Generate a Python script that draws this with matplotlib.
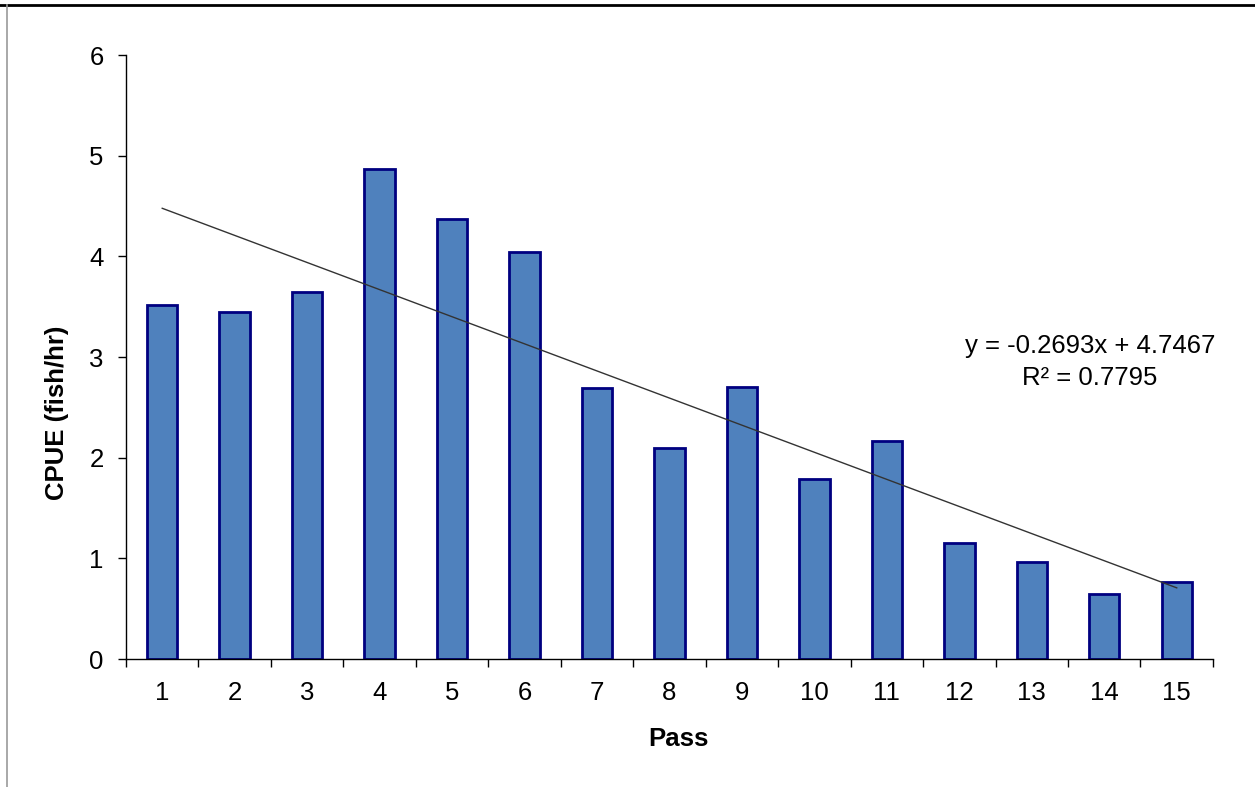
import numpy as np
import matplotlib.pyplot as plt
from matplotlib.lines import Line2D

plt.rcParams['font.family'] = ['Liberation Sans', 'DejaVu Sans']

passes = list(range(1, 16))
cpue = [3.52, 3.45, 3.65, 4.87, 4.37, 4.04, 2.69, 2.10, 2.70,
        1.79, 2.17, 1.15, 0.96, 0.65, 0.77]

# linear trend as reported on the chart
slope = -0.2693
intercept = 4.7467
r2 = 0.7795

fig = plt.figure(figsize=(12.55, 7.87), dpi=100)
ax = fig.add_axes([0.1004, 0.1626, 0.8661, 0.7675])

ax.bar(passes, cpue, width=0.42, color='#4F81BD', edgecolor='#000080',
       linewidth=2, zorder=2)

xs = np.array([1, 15])
ax.plot(xs, slope * xs + intercept, color='#333333', linewidth=1.0, zorder=3)

ax.text(13.8, 2.95, f"y = {slope}x + {intercept}\nR² = {r2}",
        ha='center', va='center', fontsize=18.5, linespacing=1.45)

ax.set_xlim(0.5, 15.5)
ax.set_ylim(0, 6)
ax.set_yticks(range(0, 7))
ax.set_xticks(passes)
ax.set_xticks(np.arange(0.5, 16, 1), minor=True)
ax.tick_params(axis='x', which='major', length=0, pad=16, labelsize=18.5)
ax.tick_params(axis='x', which='minor', length=6, width=1, direction='out')
ax.tick_params(axis='y', length=6, width=1, direction='out', pad=10, labelsize=18.5)

for side in ['top', 'right']:
    ax.spines[side].set_visible(False)
for side in ['left', 'bottom']:
    ax.spines[side].set_linewidth(1)

ax.set_xlabel('Pass', fontsize=18.5, fontweight='bold', labelpad=16, x=0.508)
ax.set_ylabel('CPUE (fish/hr)', fontsize=18.5, fontweight='bold', labelpad=15, y=0.407)

# frame edges around the chart area
fig.add_artist(Line2D([0, 1], [1 - 5 / 787, 1 - 5 / 787], color='black',
                      linewidth=2, transform=fig.transFigure))
fig.add_artist(Line2D([7 / 1255, 7 / 1255], [0, 1 - 5 / 787], color='#999999',
                      linewidth=1.2, transform=fig.transFigure))

fig.savefig('out.png', dpi=100)
